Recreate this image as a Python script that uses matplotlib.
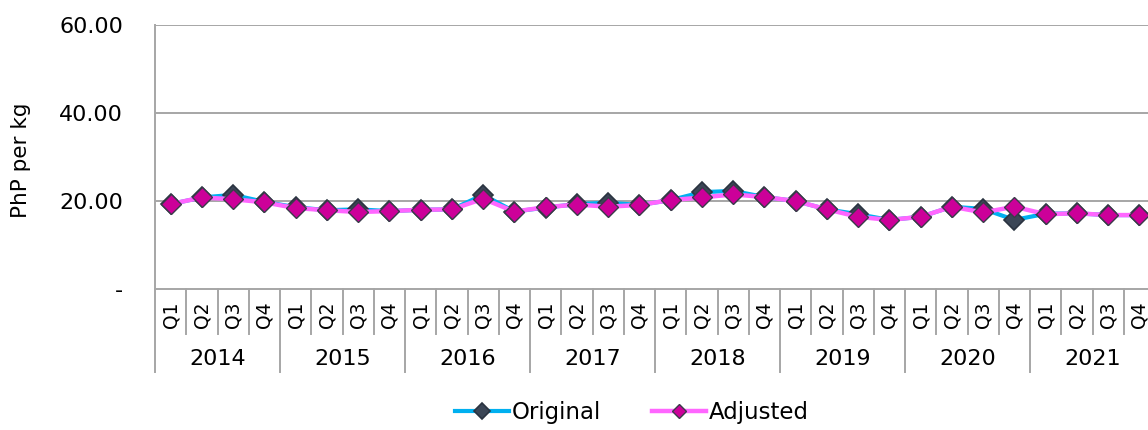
import matplotlib
matplotlib.use("Agg")
import matplotlib.pyplot as plt
import matplotlib.transforms as mtransforms

years = ["2014", "2015", "2016", "2017", "2018", "2019", "2020", "2021"]
quarters = ["Q1", "Q2", "Q3", "Q4"]

original = [19.3, 20.8, 21.4, 19.8,
            18.6, 17.9, 18.1, 17.7,
            18.0, 18.1, 21.4, 17.6,
            18.5, 19.3, 19.6, 19.1,
            20.2, 22.0, 22.3, 20.9,
            20.0, 18.1, 17.0, 15.7,
            16.4, 18.7, 18.2, 15.7,
            17.1, 17.2, 16.8, 16.8]
adjusted = [19.3, 20.8, 20.4, 19.7,
            18.4, 17.9, 17.5, 17.7,
            18.0, 18.1, 20.5, 17.6,
            18.6, 19.2, 18.7, 19.1,
            20.2, 20.8, 21.5, 20.9,
            20.0, 18.1, 16.4, 15.7,
            16.4, 18.7, 17.4, 18.7,
            17.0, 17.2, 16.8, 16.8]

plt.rcParams['font.family'] = ['DejaVu Sans']

W, H = 1148, 430
fig = plt.figure(figsize=(W / 100, H / 100), dpi=100)
left_px, right_px, top_px, bot_px = 155, 1155, 25, 289
ax = fig.add_axes([left_px / W, 1 - bot_px / H, (right_px - left_px) / W, (bot_px - top_px) / H])

n = len(original)
x = list(range(n))
grey = "#A6A6A6"

ax.plot(x, original, color="#00B0F0", lw=3.0, marker="D", ms=10.5,
        mfc="#3B4656", mec="#2A3340", mew=1.2, label="Original", zorder=3)
ax.plot(x, adjusted, color="#FF66FF", lw=3.2, marker="D", ms=10,
        mfc="#CC0099", mec="#3A3A4A", mew=1.0, label="Adjusted", zorder=4)

ax.set_xlim(-0.5, n - 0.5)
ax.set_ylim(0, 60)
ax.set_yticks([0, 20, 40, 60])
ax.set_yticklabels(["-", "20.00", "40.00", "60.00"], fontsize=16)
ax.tick_params(axis="y", length=0, pad=23)
for v in [20, 40, 60]:
    ax.axhline(v, color=grey, lw=1.4, zorder=1)

for s in ["top", "right"]:
    ax.spines[s].set_visible(False)
ax.spines["left"].set_color(grey)
ax.spines["left"].set_linewidth(1.4)
ax.spines["bottom"].set_color(grey)
ax.spines["bottom"].set_linewidth(1.4)

ax.set_xticks(x)
ax.set_xticklabels([q for _ in years for q in quarters], rotation=90, fontsize=13.5)
ax.tick_params(axis="x", length=0, pad=9)

trans = mtransforms.blended_transform_factory(ax.transData, ax.transAxes)
axh = (bot_px - top_px)
for i in range(n + 1):
    is_year = (i % 4 == 0)
    depth = (372 - bot_px) if is_year else (334 - bot_px)
    ax.plot([i - 0.5, i - 0.5], [0, -depth / axh], color=grey, lw=1.4,
            transform=trans, clip_on=False)
for j, yr in enumerate(years):
    ax.text(j * 4 + 1.5, -(359 - bot_px) / axh, yr, transform=trans,
            ha="center", va="center", fontsize=16)

ax.set_ylabel("PhP per kg", fontsize=15.5)
ax.yaxis.set_label_coords((31 - left_px) / (right_px - left_px), (bot_px - 160.5) / axh)

fig.legend(loc="center", bbox_to_anchor=(632 / W, 1 - 413 / H), ncol=2,
           frameon=False, fontsize=16.5, handlelength=2.35, handletextpad=0.13,
           columnspacing=2.2, markerscale=0.75)

fig.savefig("out.png", dpi=100)
